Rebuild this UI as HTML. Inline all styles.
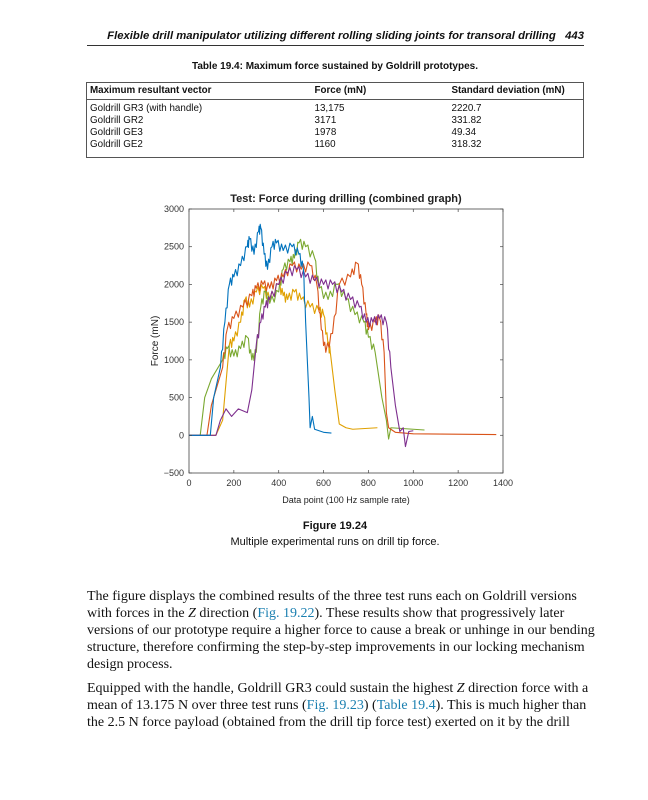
<!DOCTYPE html>
<html><head><meta charset="utf-8"><style>
body{margin:0;width:648px;height:800px;background:#fff;position:relative;font-family:"Liberation Sans",sans-serif;color:#111;overflow:hidden}
.a{position:absolute;white-space:nowrap}
.hdr{left:87px;width:497px;top:30px;text-align:right;font-style:italic;font-weight:bold;font-size:11.3px;border-bottom:1px solid #333;padding-bottom:3px}
.tt{left:0;width:670px;top:61px;text-align:center;font-weight:bold;font-size:10px}
table{position:absolute;left:86px;top:82px;width:498px;border-collapse:collapse;font-size:9.8px;border:1px solid #555;table-layout:fixed}
td{padding:0 3px;line-height:12px;white-space:nowrap;overflow:hidden}
tr.h td{font-weight:bold;border-bottom:1px solid #555;line-height:16px}
tr.l td{padding-bottom:6px}
.p{left:87px;font-family:"Liberation Serif",serif;font-size:14px;line-height:17px;color:#111}
.lk{color:#1a7fb0}
</style></head><body>
<div class="a hdr">Flexible drill manipulator utilizing different rolling sliding joints for transoral drilling &nbsp;&nbsp;443</div>
<div class="a tt">Table 19.4: Maximum force sustained by Goldrill prototypes.</div>
<table>
<colgroup><col style="width:225px"><col style="width:137px"><col></colgroup>
<tr class="h"><td>Maximum resultant vector</td><td>Force (mN)</td><td>Standard deviation (mN)</td></tr>
<tr><td style="padding-top:3px">Goldrill GR3 (with handle)</td><td style="padding-top:3px">13,175</td><td style="padding-top:3px">2220.7</td></tr>
<tr><td>Goldrill GR2</td><td>3171</td><td>331.82</td></tr>
<tr><td>Goldrill GE3</td><td>1978</td><td>49.34</td></tr>
<tr class="l"><td>Goldrill GE2</td><td>1160</td><td>318.32</td></tr>
</table>
<svg class="a" style="left:0;top:0" width="648" height="800" font-family="Liberation Sans, sans-serif">
<text x="346" y="202" text-anchor="middle" font-size="11" font-weight="bold" fill="#222">Test: Force during drilling (combined graph)</text>
<rect x="189" y="209" width="314" height="264" fill="none" stroke="#444" stroke-width="0.8"/>
<g font-size="9" fill="#333" text-anchor="end" id="yt"></g>
<g font-size="9" fill="#333" text-anchor="middle" id="xt"></g>
<text x="346" y="503" text-anchor="middle" font-size="9" fill="#222">Data point (100 Hz sample rate)</text>
<text transform="translate(158,341) rotate(-90)" text-anchor="middle" font-size="10" fill="#222">Force (mN)</text>
<g id="ser" fill="none" stroke-linejoin="round"></g>
</svg>
<div class="a" style="left:0;width:670px;top:520px;text-align:center;font-size:11px;font-weight:bold">Figure 19.24</div>
<div class="a" style="left:0;width:670px;top:536px;text-align:center;font-size:11px">Multiple experimental runs on drill tip force.</div>
<div class="a p" style="top:588px">The figure displays the combined results of the three test runs each on Goldrill versions<br>with forces in the <i>Z</i> direction (<span class="lk">Fig. 19.22</span>). These results show that progressively later<br>versions of our prototype require a higher force to cause a break or unhinge in our bending<br>structure, therefore confirming the step-by-step improvements in our locking mechanism<br>design process.</div>
<div class="a p" style="top:680px">Equipped with the handle, Goldrill GR3 could sustain the highest <i>Z</i> direction force with a<br>mean of 13.175 N over three test runs (<span class="lk">Fig. 19.23</span>) (<span class="lk">Table 19.4</span>). This is much higher than<br>the 2.5 N force payload (obtained from the drill tip force test) exerted on it by the drill</div>
<script>
var X=function(v){return 189+v*314/1400},Y=function(v){return 473-(v+500)*264/3500};
var ns="http://www.w3.org/2000/svg",svg=document.querySelector("svg");
function el(p,t,a,txt){var e=document.createElementNS(ns,t);for(var k in a)e.setAttribute(k,a[k]);if(txt!=null)e.textContent=txt;p.appendChild(e);return e;}
var yt=document.getElementById("yt"),xt=document.getElementById("xt");
for(var v=-500;v<=3000;v+=500){el(yt,"text",{x:184,y:Y(v)+3},v==-500?"\u2212500":v);el(svg,"line",{x1:189,x2:192,y1:Y(v),y2:Y(v),stroke:"#444","stroke-width":0.7});el(svg,"line",{x1:500,x2:503,y1:Y(v),y2:Y(v),stroke:"#444","stroke-width":0.7});}
for(var v=0;v<=1400;v+=200){el(xt,"text",{x:X(v),y:486},v);el(svg,"line",{x1:X(v),x2:X(v),y1:473,y2:470,stroke:"#444","stroke-width":0.7});el(svg,"line",{x1:X(v),x2:X(v),y1:209,y2:212,stroke:"#444","stroke-width":0.7});}
var S=[
["#e0a000",[[0,0],[120,0],[150,200],[165,700],[180,1200],[200,1250],[230,1500],[250,1800],[270,1700],[300,1900],[330,1950],[360,1800],[400,2000],[420,1850],[440,1800],[470,1900],[500,1800],[540,1700],[580,1650],[600,1600],[620,1200],[630,1100],[650,600],[670,150],[700,100],[730,80],[840,100]]],
["#7aa830",[[0,0],[50,0],[70,500],[100,750],[150,1000],[170,1150],[200,1050],[230,1150],[260,1300],[280,1000],[300,1100],[320,1700],[340,1900],[360,1750],[400,1900],[420,2200],[450,2300],[470,2350],[490,2550],[520,2500],[560,2350],[580,1950],[620,1800],[660,2000],[700,1800],[740,1600],[780,1500],[800,1300],[830,1100],[860,500],[880,200],[890,-50],[900,100],[1000,80],[1050,70]]],
["#d95319",[[0,0],[80,0],[100,400],[130,700],[150,900],[170,1400],[200,1550],[240,1700],[280,1850],[300,1950],[330,2000],[360,1950],[390,2050],[420,2100],[460,2250],[500,2200],[540,2250],[570,2000],[590,1400],[610,1100],[640,1350],[670,2000],[720,2100],[750,2280],[770,2000],[790,1600],[800,1400],[830,1500],[850,1550],[870,1100],[880,300],[890,100],[920,40],[1000,20],[1370,10]]],
["#7e2f8e",[[0,0],[120,0],[140,200],[165,350],[190,250],[220,350],[260,300],[280,600],[300,1200],[320,1500],[340,1700],[360,1800],[400,2000],[440,2150],[480,2200],[520,2100],[560,2050],[600,2000],[640,2000],[680,1900],[720,1800],[760,1700],[790,1500],[820,1500],[850,1550],[880,1500],[900,900],[920,400],[940,50],[955,100],[965,-150],[980,50],[1000,60]]],
["#0072bd",[[0,0],[95,0],[110,500],[140,900],[160,1500],[180,2000],[200,2100],[230,2250],[260,2500],[270,2600],[290,2400],[310,2700],[320,2750],[335,2400],[350,2200],[370,2500],[390,2550],[420,2450],[460,2500],[490,2400],[510,2200],[520,1500],[535,500],[540,100],[550,250],[560,80],[600,40],[635,30]]]];
var g=document.getElementById("ser");
S.forEach(function(s){var pts=[];for(var i=0;i<s[1].length;i++){var a=s[1][i];pts.push(X(a[0])+","+Y(a[1]));if(i<s[1].length-1){var b=s[1][i+1];if(b[1]>800&&a[1]>800){for(var k=1;k<4;k++){var t=k/4;pts.push(X(a[0]+(b[0]-a[0])*t)+","+Y(a[1]+(b[1]-a[1])*t+(k%2?60:-60)));}}}}el(g,"polyline",{points:pts.join(" "),stroke:s[0],"stroke-width":1.1});});
</script>
</body></html>
